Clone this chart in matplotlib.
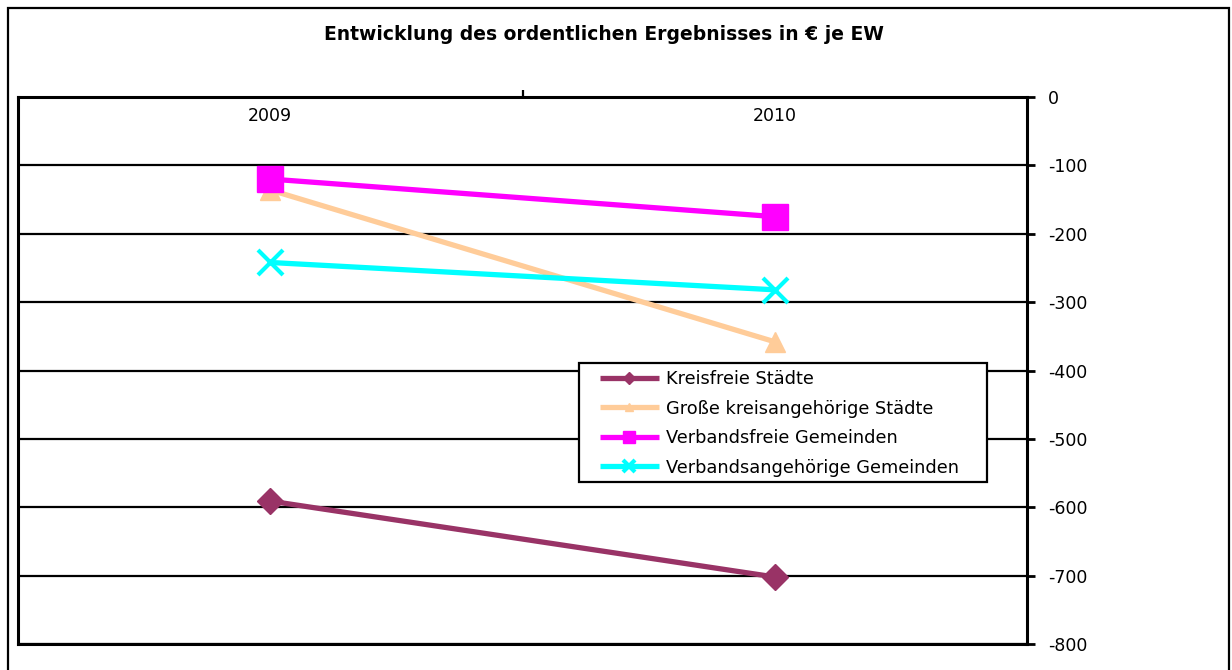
import matplotlib
matplotlib.use("Agg")
import matplotlib.pyplot as plt
from matplotlib.patches import Rectangle
from matplotlib.ticker import FixedLocator

plt.rcParams['font.family'] = ['DejaVu Sans']

# Data: ordinary result in EUR per inhabitant
years = ["2009", "2010"]
kreisfreie = [-591, -702]
grosse_kreisangehoerige = [-136, -358]
verbandsfreie = [-120, -175]
verbandsangehoerige = [-242, -282]

series = [
    ("Kreisfreie Städte", kreisfreie, "#993366", "D", 13, 1.0),
    ("Große kreisangehörige Städte", grosse_kreisangehoerige, "#FFCC99", "^", 14, 1.0),
    ("Verbandsfreie Gemeinden", verbandsfreie, "#FF00FF", "s", 19, 1.0),
    ("Verbandsangehörige Gemeinden", verbandsangehoerige, "#00FFFF", "x", 18, 3.0),
]

W, H = 1232, 670
fig = plt.figure(figsize=(W / 100, H / 100), dpi=100)


def fx(px):
    return px / W


def fy(py):
    return 1 - py / H


# outer chart frame
fig.patches.append(Rectangle((fx(8), -0.01), fx(1229 - 8), (H - 8) / H + 0.01,
                             transform=fig.transFigure, fill=False,
                             edgecolor="black", linewidth=1.6))

left, right, top, bottom = 18, 1027, 97, 644
ax = fig.add_axes([fx(left), fy(bottom), fx(right - left), (bottom - top) / H])

x = list(range(len(years)))
for name, vals, color, marker, ms, mew in series:
    ax.plot(x, vals, color=color, linewidth=3.8, marker=marker, markersize=ms,
            markeredgecolor=color, markerfacecolor=color, markeredgewidth=mew,
            label=name, solid_capstyle="butt", zorder=3)

ax.set_xlim(-0.5, 1.5)
ax.set_ylim(-800, 0)

# value axis on the right
ax.yaxis.tick_right()
yt = list(range(0, -801, -100))
ax.set_yticks(yt, [str(v) for v in yt])
ax.tick_params(axis="y", direction="out", length=6, width=2, pad=9,
               labelsize=12.5, colors="black")
ax.grid(axis="y", color="black", linewidth=1.6, zorder=1)

# category axis at the top
ax.xaxis.tick_top()
ax.set_xticks(x, years)
ax.tick_params(axis="x", which="major", length=0, pad=-20, labelsize=12.5)
ax.xaxis.set_minor_locator(FixedLocator([0.5]))
ax.tick_params(axis="x", which="minor", top=True, bottom=False,
               direction="out", length=5, width=1.6)

for side, sp in ax.spines.items():
    sp.set_color("black")
    sp.set_linewidth(2.2)

fig.text(fx(604), fy(34), "Entwicklung des ordentlichen Ergebnisses in € je EW",
         ha="center", va="center", fontsize=13.5, fontweight="bold")

# legend box
ax.add_patch(Rectangle((fx(579), fy(482)), fx(987 - 579), (482 - 363) / H,
                       transform=fig.transFigure, facecolor="white",
                       edgecolor="black", linewidth=1.6, zorder=4, clip_on=False))
leg = ax.legend(loc="upper left",
                bbox_to_anchor=(fx(600), fy(370)), bbox_transform=fig.transFigure,
                frameon=False, fontsize=12.8, markerscale=0.45,
                handlelength=3.3, handletextpad=0.4,
                labelspacing=0.65, borderpad=0, borderaxespad=0)
leg.set_zorder(5)

fig.savefig("out.png", dpi=100)
